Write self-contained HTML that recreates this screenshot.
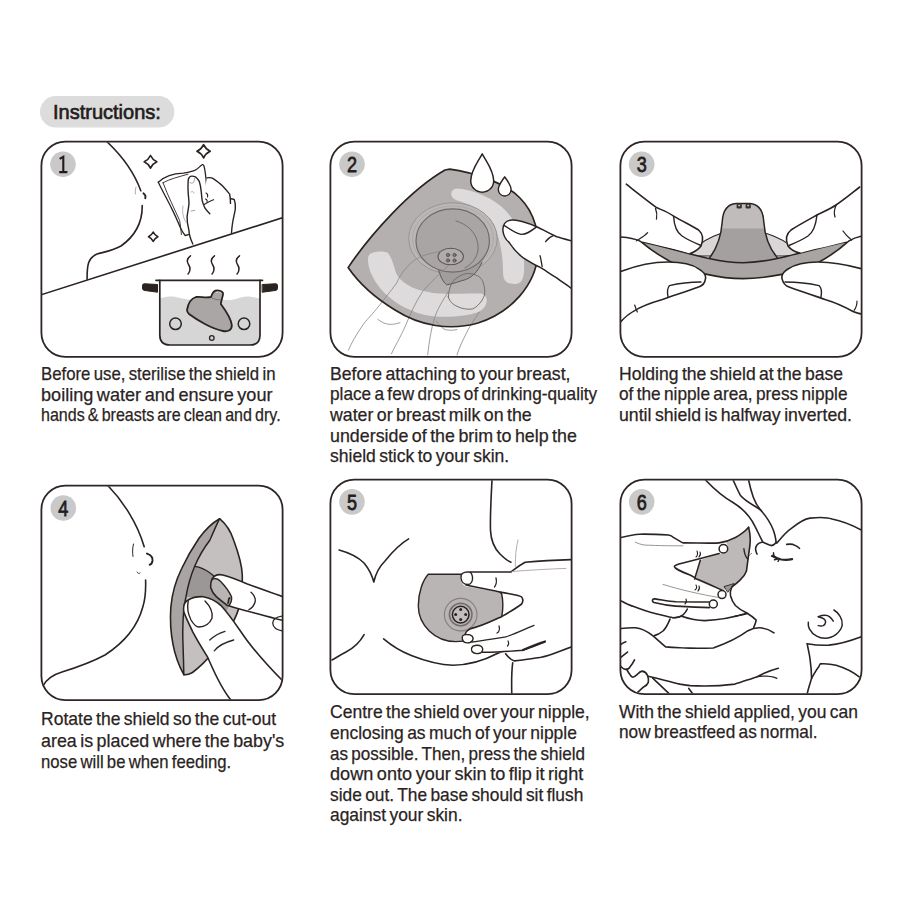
<!DOCTYPE html>
<html><head><meta charset="utf-8"><style>
html,body{margin:0;padding:0;background:#fff;width:900px;height:900px;overflow:hidden;position:relative}
.ill{position:absolute;left:0;top:0}
.t{position:absolute;white-space:pre;font-family:"Liberation Sans",sans-serif;line-height:1;color:#2a2322;transform-origin:0 0;-webkit-text-stroke:0.25px #2a2322}
.n{position:absolute;width:20px;text-align:center;font-family:"Liberation Sans",sans-serif;font-size:20px;line-height:1;color:#231c1b}
</style></head><body>
<svg class="ill" width="900" height="900" viewBox="0 0 900 900">
<rect x="40" y="96.1" width="134.4" height="31.5" rx="15.75" fill="#dcdcdc"/>
<defs><clipPath id="pc1"><rect x="42" y="142.3" width="240" height="213.89999999999998" rx="23"/></clipPath><clipPath id="pc2"><rect x="331" y="142.3" width="240" height="213.89999999999998" rx="23"/></clipPath><clipPath id="pc3"><rect x="621" y="142.3" width="240" height="213.89999999999998" rx="23"/></clipPath><clipPath id="pc4"><rect x="42" y="486.3" width="240" height="213.2" rx="23"/></clipPath><clipPath id="pc5"><rect x="331" y="480.3" width="240" height="213.2" rx="23"/></clipPath><clipPath id="pc6"><rect x="621" y="480.3" width="240" height="213.2" rx="23"/></clipPath></defs>
<g clip-path="url(#pc1)"><g id="p1" fill="none" stroke="#2b2321" stroke-width="1.6" stroke-linecap="round" stroke-linejoin="round">
<path d="M106.7,141.5 C120,154 134,172 140.8,190.8"/>
<path d="M143.4,193.2 Q146.5,195.5 145.2,198.3" stroke-width="1.8"/>
<path d="M136,187 Q134.8,191 135.3,194" stroke="#9a9494" stroke-width="0.8"/>
<path d="M142.2,205.6 C142.5,222 135,236 121,246 C112,251 104,252 97,254 C88,258 87,265 87.1,279.2"/>
<path d="M41,294.8 L283,217.6"/>
<!-- sparkles -->
<path d="M150.5,155.5 Q152.52,159.78 156.8,161.8 Q152.52,163.82 150.5,168.10000000000002 Q148.48,163.82 144.2,161.8 Q148.48,159.78 150.5,155.5Z" stroke-width="1.7"/>
<path d="M203.6,144.70000000000002 Q205.71,149.19 210.2,151.3 Q205.71,153.41 203.6,157.9 Q201.49,153.41 197.0,151.3 Q201.49,149.19 203.6,144.70000000000002Z" stroke-width="1.7"/>
<path d="M153.2,232.0 Q154.70,235.20 157.89999999999998,236.7 Q154.70,238.20 153.2,241.39999999999998 Q151.70,238.20 148.5,236.7 Q151.70,235.20 153.2,232.0Z" stroke-width="1.6"/>
<!-- cloth -->
<path d="M158.3,182.2 C162,179 165,177 169.2,175.6 C174,174 178,173.5 183.3,173.2 C188,172.5 191,171.5 194.7,170.4 C198,169 200,166 202.2,164.7 C203,164.3 203.8,165 204.1,166.6 C205,170 205.5,174 206,178.9 L206.9,191.2 L189,236 L185.2,235.5 C183,232 181.5,230 180.5,228 C178,222 175,215 172,209.1 C167,200 162,190 158.3,182.2Z" fill="#fff" stroke="none"/>
<path d="M158.3,182.2 C162,179 165,177 169.2,175.6 C174,174 178,173.5 183.3,173.2 C188,172.5 191,171.5 194.7,170.4 C198,169 200,166 202.2,164.7 C203,164.3 203.8,165 204.1,166.6 C205,170 205.5,174 206,178.9 C206.4,183 206.6,187 206.9,191.2" stroke-width="1.3"/>
<path d="M158.3,182.2 C163,192 168,201 172,209.1 C175,215 178,222 180.5,228 C182,231 183.5,233.5 185.2,235.5 L188.5,234.6" stroke-width="1.3"/>
<path d="M163,182.7 C170,179 178,177 188,174.2" stroke-width="0.9"/>
<path d="M163,182.7 C168,196 174,208 179.6,220.4 C180.5,225 181,230 181.4,234.6" stroke-width="0.9"/>
<path d="M183,206 C182,212 183,218 186,222" stroke="#9a9494" stroke-width="0.7"/>
<!-- hand -->
<path d="M192.8,244 C190,238 189,234 189,230.8 C187.5,225 187,220 187.1,216.7 C188,210 189,206 189,202.5 C188.5,196 188,192 188,188.3 C188,183 188,180 188.5,178.9 C189.5,176.5 190.5,176 191.8,176.1 C193.5,176 194.5,176.5 195.6,177 C197.5,178.5 198.5,180 199.4,181.7 C200.5,185 201,189 201.3,192.1 C201.6,195 201.8,198 202.2,200.6 C203,204 204,206 205,208.2 C206.5,210.5 208,212 209.8,213.8 L214,205 C220,201 224,198 228,196 L207,178 Z" fill="#fff" stroke="none"/>
<path d="M192.8,244 C190,238 189,234 189,230.8 C187.5,225 187,220 187.1,216.7 C188,210 189,206 189,202.5 C188.5,196 188,192 188,188.3 C188,183 188,180 188.5,178.9 C189.5,176.5 190.5,176 191.8,176.1 C193.5,176 194.5,176.5 195.6,177 C197.5,178.5 198.5,180 199.4,181.7 C200.5,185 201,189 201.3,192.1 C201.6,195 201.8,198 202.2,200.6 C203,204 204,206 205,208.2 C206.5,210.5 208,212 209.8,213.8" stroke-width="1.4"/>
<path d="M190,182.7 C191,183.3 192,183.3 192.8,183.1 C194,182 194.5,180 194.7,178.4" stroke="#8f8989" stroke-width="0.8"/>
<path d="M207,177.9 C209,177.5 210.5,177.6 211.7,177.9 C215,179.5 218,182 221.1,184.6 C224,187.5 227,191 229.6,194 C230.3,197 230.5,200 230.5,203.4" stroke-width="1.4"/>
<path d="M230.5,198.7 C232,198.8 233.5,199.2 234.3,199.7 C235.5,203 235.6,206 235.3,209.1 C234.5,214 233,219 232.4,224.2 C232,227 231.7,230 231.5,232.7" stroke-width="1.4"/>
<path d="M204.1,204.4 C207,202.5 210,201 213.5,199.7" stroke-width="1.2"/>
<path d="M206,193 C207.5,193.5 208,195 207.5,197 M205.5,199 C207,199.5 207.5,201 207,202" stroke-width="1.1"/>
<path d="M190.9,211 C192,210.7 193.5,210.6 194.7,210.5" stroke="#8f8989" stroke-width="0.8"/>
<path d="M191,192 C192.5,191 193.5,191.5 194,193" stroke="#9a9494" stroke-width="0.7"/>
<!-- pot -->
<path d="M160,298.5 C166,296.5 171,296 176,297 C183,298.5 188,300.5 195,299.5 C201,298.5 204,296.5 210,297 C218,298 222,300.5 230,300 C237,299.5 241,296.5 247,296.5 C252,296.5 256,298 260,298.5 L260,335 Q260,345 250,345 L170,345 Q160,345 160,335Z" fill="#d6d6d6" stroke="none"/>
<path d="M159.8,280.3 L159.8,335 Q159.8,345 170,345 L250,345 Q260,345 260,335 L260,280.3" stroke-width="1.7"/>
<path d="M156,280.3 L262.5,280.3" stroke-width="1.7"/>
<path d="M142.5,285.5 C142.5,284 143.5,283.8 145,283.8 L157.5,284.5 L157.5,292.2 L145,290.5 C143.5,290.3 142.5,289.8 142.5,288.5Z" fill="#2b2321" stroke="#2b2321" stroke-width="1"/>
<path d="M262.5,284.5 L275,283.8 C276.5,283.8 277.5,284 277.5,285.5 L277.5,288.5 C277.5,289.8 276.5,290.3 275,290.5 L262.5,292.2Z" fill="#2b2321" stroke="#2b2321" stroke-width="1"/>
<circle cx="175.5" cy="323.8" r="5.8" stroke-width="1.5"/>
<circle cx="244" cy="323.8" r="5.8" stroke-width="1.5"/>
<circle cx="211.8" cy="338" r="2.3" stroke-width="1.3"/>
<path d="M187,310 C188,304 191,298.5 196,297 C201,296.5 205,298 211,297 C212,294 213,291.5 215.5,290.6 C218.5,290 222,291 223,293 C223.5,295.5 221.5,298.5 220.8,304 C226,311 231,318 231.8,325 C232,330 228,332 223,331 C212,329 197,320 189,314 C187.5,312.5 187,311 187,310Z" fill="#aaa6a5" stroke-width="1.8"/>
<path d="M216.5,292.5 L218,292.2 M219.8,292.6 L221,293" stroke="#ddd" stroke-width="0.9"/>
<path d="M212,298 C214,299 217,300 220.5,300" stroke="#6b6565" stroke-width="0.8"/>
<!-- steam -->
<path d="M190.5,255.8 C187,258.5 186.5,261.5 188.5,264.5 C190.5,267.5 191,270.5 188,274" stroke-width="1.5"/>
<path d="M214.5,255.8 C211,258.5 210.5,261.5 212.5,264.5 C214.5,267.5 215,270.5 212,274" stroke-width="1.5"/>
<path d="M239.5,255.8 C236,258.5 235.5,261.5 237.5,264.5 C239.5,267.5 240,270.5 237,274" stroke-width="1.5"/>
</g>
</g>
<g clip-path="url(#pc2)"><g id="p2" fill="none" stroke="#2b2321" stroke-width="1.6" stroke-linecap="round" stroke-linejoin="round">
<defs>
<clipPath id="c2"><path d="M449.8,169.2 C470,172 505,182 520,198 C535,213 540,235 538,255 C535,285 512,312 478,323 C450,331 420,326 395,310 C375,298 358,282 348.1,267.6 C370,235 410,190 445,170 Z"/></clipPath>
</defs>
<path d="M449.8,169.2 C470,172 505,182 520,198 C535,213 540,235 538,255 C535,285 512,312 478,323 C450,331 420,326 395,310 C375,298 358,282 348.1,267.6 C370,235 410,190 445,170 Z" fill="#b4b0af" stroke="none"/>
<g clip-path="url(#c2)" stroke="none">
<path d="M462,189 C485,193 505,205 514,222 C522,238 525,258 524,272 C523,282 520,284 514,284 C506,284 503,280 503,272 C503,255 500,240 495,228 C488,214 475,206 459,201 C452,199 450,195 452,191 C454,188 458,188 462,189Z" fill="#dddbdb"/>
<path d="M372,253 C377,251 385,251 388,253 C392,258 394,266 396,273 C402,285 418,292 440,293.5 C455,294 470,293.5 481,293.5 C486,295 488,299 486,304 C484,310 478,313 470,314.5 C455,317 440,318 425,315 C405,310 390,300 380,288 C372,278 368,268 368,260 C368,256 369,254 372,253Z" fill="#dddbdb"/>
</g>
<ellipse cx="453" cy="238.5" rx="44.3" ry="35.7" fill="#bbb7b6" stroke="#959190" stroke-width="0.9"/>
<ellipse cx="453" cy="238.5" rx="40.5" ry="32.5" fill="none" stroke="#a9a5a4" stroke-width="0.7"/>
<path d="M438,268 C440,276 443,282 446.6,284.8 C453,284 460,281 465.6,279.6 C472,277 478,272 482,262" fill="#a19d9c" stroke="#5e5757" stroke-width="1"/>
<ellipse cx="452.7" cy="240.5" rx="36.7" ry="31.7" fill="#a9a5a4" stroke="#6f6a69" stroke-width="1.2"/>
<path d="M456,221 C470,225 479,236 478,250 C477,258 472,264 465,268" stroke="#6e6868" stroke-width="0.9"/>
<ellipse cx="450.7" cy="256.5" rx="12.7" ry="8.3" fill="#b0acab" stroke="#5a5353" stroke-width="1.1"/>
<g fill="#7a7474" stroke="#4a4343" stroke-width="0.6"><circle cx="448" cy="255" r="1.7"/><circle cx="454.5" cy="255" r="1.7"/><circle cx="448" cy="260.5" r="1.7"/><circle cx="454.5" cy="260.5" r="1.7"/></g>
<!-- faint hand -->
<g stroke="#8a8585" stroke-width="0.8">
<path d="M448.3,296.8 C449,288 452,280 457,277.9 C462,274 468,273 469,273.6 C476,274 481,277 482.8,281.3 C485,287 485,292 484.5,295.1 C482,302 477,307 472.5,308.9 C466,310 460,308 455.2,305.4 C451,303 449,300 448.3,296.8Z" stroke="#6e6868" stroke-width="0.9"/>
<path d="M441.5,251.2 C430,253 420,256 413.9,260.7 C405,268 400,275 396.7,283 C390,292 385,298 379.4,305.4 C372,315 366,320 362.2,326.1 C356,335 352,342 348.4,350.2"/>
<path d="M448.3,265.8 C438,275 430,283 422.5,291.7 C415,303 410,315 405.3,326.1 C400,338 395,346 391.5,353.7"/>
<path d="M448.3,291.7 C443,300 438,308 434.6,317.5 C431,330 429,342 427.7,355"/>
<path d="M479.3,312.3 C474,320 469,327 465.6,334.7 C462,342 459,348 457,355"/>
<path d="M377.7,319.2 C381,322 385,324 389.8,324.4 C394,324.5 397,323.5 400,322.7"/>
<path d="M436.3,321 C439,325 442,328 444.9,329.6 C449,330.5 453,330.5 457,329.6"/>
</g>
<path d="M449.8,169.2 C470,172 505,182 520,198 C535,213 540,235 538,255 C535,285 512,312 478,323 C450,331 420,326 395,310 C375,298 358,282 348.1,267.6 C370,235 410,190 445,170 Z" stroke-width="1.7"/>
<!-- drops -->
<path d="M482.2,153.8 C478,162 471,170 470.7,180.7 A11.5,11.5 0 0 0 493.7,180.7 C493.4,170 486.5,162 482.2,153.8Z" fill="#fff" stroke-width="1.5"/>
<path d="M504.7,176.8 C502,181 498.3,185 498.3,189.6 A6.4,6.4 0 0 0 511.1,189.6 C511.1,185 507.4,181 504.7,176.8Z" fill="#fff" stroke-width="1.4"/>
<!-- finger -->
<path d="M572,241.1 C565,239 560,237.5 556.7,236.7 C548,233 542,229 536.7,226.7 C528,223 518,219.5 512.2,220 C506,220.5 503,223 502.8,230 C504,236 506,240 508.9,242.2 C514,250 518,254 523.3,257.8 C530,262 535,265 538.9,266.7 C545,270 550,274 556.7,277.8 C562,282 567,285 572,288.9 Z" fill="#fff" stroke="none"/>
<path d="M572,241.1 C565,239 560,237.5 556.7,236.7 C548,233 542,229 536.7,226.7 C528,223 518,219.5 512.2,220 C506,220.5 503,223 502.8,230 C503.5,236 506,240 508.9,242.2 C514,250 518,254 523.3,257.8 C530,262 535,265 538.9,266.7 C545,270 550,274 556.7,277.8 C562,282 567,285 572,288.9" stroke-width="1.5"/>
<path d="M504.4,225.6 C510,229 515,233 521.1,234.4 C527,234.5 531,231 536.7,226.7" stroke-width="1.4"/>
<path d="M545.6,241.7 C548,238.5 550.5,236.5 553.3,235.6" stroke-width="1.3"/>
<path d="M540,255.6 C541,259 541.5,263 542.2,266.7" stroke-width="1.3"/>
</g>
</g>
<g clip-path="url(#pc3)"><g id="p3" fill="none" stroke="#2b2321" stroke-width="1.6" stroke-linecap="round" stroke-linejoin="round">
<!-- back brim -->
<path d="M690,256 C700,238 725,230 743,230 C762,230 788,238 800,256 Z" fill="#d8d6d6" stroke="#2b2321" stroke-width="1.1"/>
<!-- nipple -->
<path d="M704,266 L708.3,259.5 C716,250 721,238 722.2,222 C722.8,211 727,204 736,203.4 L750,203.4 C759,204 763.2,211 763.8,222 C765,238 770,250 779,259.5 L783,266 Z" fill="#a3a09f" stroke="none"/>
<path d="M721.5,228.6 C722.5,223 722.5,218 723,214 C725,207 729,203.6 736,203.4 L750,203.4 C757,203.6 761,207 763,214 C763.5,218 763.8,223 764.5,228.6 Z" fill="#c0bcbb" stroke="none"/>
<path d="M708.3,259.5 C716,250 721,238 722.2,222 C722.8,211 727,204 736,203.4 L750,203.4 C759,204 763.2,211 763.8,222 C765,238 770,250 779,259.5" stroke-width="1.5"/>
<rect x="736.6" y="203.6" width="5.2" height="5" rx="1.3" fill="#3a3331" stroke="none"/><rect x="745.6" y="203.6" width="5.2" height="5" rx="1.3" fill="#3a3331" stroke="none"/><rect x="738.3" y="204.8" width="1.8" height="1.4" fill="#cfcbca" stroke="none"/><rect x="747.3" y="204.8" width="1.8" height="1.4" fill="#cfcbca" stroke="none"/>
<!-- front brim -->
<path d="M640.2,241.1 C680,250 710,262 743,262.8 C776,262 806,250 848.6,241.1 C830,258 805,272 781.9,274.4 C768,277 755,278.6 743,278.6 C731,278.6 718,277 706.9,274.4 C682,270 658,256 640.2,241.1Z" fill="#a9a5a4" stroke-width="1.6"/>
<!-- left upper finger -->
<path d="M620,237 C627,238 634,239 640.2,241.1 C660,246 680,250 690.2,253.6 C697,250 702,245 702.7,239.7 C703,234 700,231 690,228 C682,224 675,219 673.6,216.1 C665,211 660,209 656.9,207.8 C645,199 635,191 626.3,184.2 L620,180 Z" fill="#fff" stroke="none"/>
<path d="M626.3,184.2 C635,191 645,199 656.9,207.8 C662,210 668,212 673.6,216.1 C682,221 692,226 698.6,230 C703,234 703.5,240 701,246 C698,250 694,252 690.2,253.6"/>
<path d="M673.6,216.1 C674,224 676,232 682,236 C688,240 695,243 701,245.5" stroke-width="1.4"/>
<path d="M655.5,208.5 C657,212 657,216 656.5,219" stroke-width="1.3"/>
<path d="M620,237 C627,237.5 634,238.5 640.2,241.1" stroke-width="1.4"/>
<path d="M636.5,240.8 C641,238 645,236 647.6,232.7" stroke-width="1.3"/>
<!-- right upper finger -->
<path d="M862,236 C855,238 851,239 848.6,241.1 C830,246 810,250 800,253 C792,250 786,245 786,239.7 C786,234 790,231 800,227 C808,223 815,218 817,215 C826,210 832,207 836,205 C845,199 852,193 860,187 L862,186 Z" fill="#fff" stroke="none"/>
<path d="M859.7,187 C852,193 845,199 836,205 C830,209 823,212 817,215 C808,220 797,226 791,230 C786,234 785.5,240 788,246 C791,250 795,252 800,253"/>
<path d="M817,215 C816,224 814,232 808,236 C802,240 795,243 789,245.5" stroke-width="1.4"/>
<path d="M836,205.5 C834,210 834,214 835,217" stroke-width="1.3"/>
<path d="M862,236 C856,237 852,239 848.6,241.1" stroke-width="1.4"/>
<path d="M851.5,240 C848,237 845,234 843,231" stroke-width="1.3"/>
<!-- left lower thumb -->
<path d="M620,271.7 C635,266 652,262 668,262 C682,262 692,264 698.6,268.9 C704,272 706,276 705.5,278.6 C705,283 702,286 698.6,287 C688,291 675,295 662.4,299.4 C650,303 640,307 634.7,310.6 C628,314 624,318 620,321.7 Z" fill="#fff" stroke="none"/>
<path d="M620,271.7 C635,266 652,262 668,262 C682,262 692,264 698.6,268.9 C704,272 706,276 705.5,278.6 C705,283 702,286 698.6,287 C688,291 675,295 662.4,299.4 C650,303 640,307 634.7,310.6 C628,314 624,318 620.8,321.7"/>
<path d="M668,296.7 C667,292 667.5,288 669.4,285.6 C680,283 690,282 701,282" stroke-width="1.4"/>
<path d="M634.7,305 C635.5,308 636.5,310 637.4,312" stroke-width="1.2"/>
<!-- right lower thumb -->
<path d="M862,268.9 C848,265 832,262 818,262 C804,262 794,265 788,269 C783,272 781.5,276 782,278.6 C783,283 786,286 789,287 C800,291 812,295 825,299.4 C837,303 847,308 853,311.5 C857,313 860,314 862,314 Z" fill="#fff" stroke="none"/>
<path d="M862,268.9 C848,265 832,262 818,262 C804,262 794,265 788,269 C783,272 781.5,276 782,278.6 C783,283 786,286 789,287 C800,291 812,295 825,299.4 C837,303 847,308 853,311.5 C857,313 860,314 862,314"/>
<path d="M821,297 C822,292 821.5,288 819,285.6 C808,283 797,282 785,282" stroke-width="1.4"/>
<path d="M857,301 C857,305 856,308 854,310.5" stroke-width="1.2"/>
</g>
</g>
<g clip-path="url(#pc4)"><g id="p4" fill="none" stroke="#2b2321" stroke-width="1.6" stroke-linecap="round" stroke-linejoin="round">
<path d="M108,485.8 C122,500 137,522 144.2,546.7"/>
<path d="M145.6,580 C146,592 145,600 142.8,607 C138,625 125,642 105,655 C90,663 75,668 62,672 C52,675 46,680 43,686"/>
<path d="M147,553.6 C151,555 153,558 152.5,561 C152,563 151,564.5 149.7,564.7" stroke-width="2"/>
<path d="M133.5,544 C132.5,548 132.3,552 133,556.4" stroke-width="1"/>
<path d="M137,572 C138,573.5 139,574 140,573" stroke-width="0.9"/>
<!-- shield -->
<path d="M219.6,518.7 C226,524 231,532 233.7,540.3 C238,552 242,565 242.3,575 C242.5,585 242,595 240.2,603.2 C238,612 235,619 231.5,624.8 C226,634 220,643 214.2,650.8 C207,660 200,667 192.5,672.5 C189,674.5 186,675 183.8,674.7 C178,664 175,655 173,644.3 C170.5,632 170,620 170.8,607.5 C172,593 176,580 181.7,568.5 C187,557 193,547 199,538.2 C205,530 212,523 219.6,518.7Z" fill="#c4c0bf" stroke="none"/>
<path d="M219.6,518.7 C205,530 199,538 199,538.2 C193,547 187,557 181.7,568.5 C176,580 172,593 170.8,607.5 C170,620 170.5,632 173,644.3 C175,655 178,664 183.8,674.7 C183.5,650 182.5,640 182.8,629.2 C183,615 184,605 186,596.7 C188,585 191,575 194.7,566.3 C199,556 204,548 209.8,540.3 C213,533 216,526 219.6,518.7Z" fill="#a9a5a4" stroke="none"/>
<path d="M194.7,566.3 C200,567 205,569 209.8,572.8 C213,575 215,577 216.3,579.3 L229,606 L226,612 L203,598 L186,596.7 C188,585 191,575 194.7,566.3Z" fill="#9b9796" stroke="none"/>
<path d="M219.6,518.7 C226,524 231,532 233.7,540.3 C238,552 242,565 242.3,575 C242.5,585 242,595 240.2,603.2 C238,612 235,619 231.5,624.8 C226,634 220,643 214.2,650.8 C207,660 200,667 192.5,672.5 C189,674.5 186,675 183.8,674.7 C178,664 175,655 173,644.3 C170.5,632 170,620 170.8,607.5 C172,593 176,580 181.7,568.5 C187,557 193,547 199,538.2 C205,530 212,523 219.6,518.7Z" stroke-width="1.6"/>
<path d="M219.6,518.7 C216,526 213,533 209.8,540.3 C204,548 199,556 194.7,566.3 C191,575 188,585 186,596.7 C184,605 183,615 182.8,629.2 C182.5,640 183.5,650 183.8,674.7" stroke-width="1.5"/>
<path d="M194.7,566.3 C200,567 205,569 209.8,572.8 C213,575 215,577 216.3,579.3" stroke-width="1.3"/>
<!-- index finger -->
<path d="M283,596.7 C270,592 258,588 246.7,583.7 C238,580 230,577 222.8,575 C218,574 214,575.5 212,579.3 C210.5,583 210.5,586 210.9,588 C212,592 214,594.5 216.3,596.7 C220,600 224,603 227.2,605.3 C232,607 237,608.5 242.3,609.7 C255,613 268,617 283,620.5 Z" fill="#fff" stroke="none"/>
<path d="M212,579.3 C214,577 218,576.5 220.7,581.5 C225,586 229,591 231.5,596.7 C232,600 231,603 229.3,605.3 C226,606 222,603 216.3,596.7 C214,594.5 212,592 210.9,588 C210.5,585 211,582 212,579.3Z" fill="#b9b5b4" stroke="none"/>
<path d="M283,596.7 C270,592 258,588 246.7,583.7 C238,580 230,577 222.8,575 C218,574 214,575.5 212,579.3 C210.5,583 210.5,586 210.9,588 C212,592 214,594.5 216.3,596.7 C220,600 224,603 227.2,605.3 C232,607 237,608.5 242.3,609.7 C255,613 268,617 283,620.5"/>
<path d="M212,579.3 C215,578 218,578.5 220.7,581.5 C225,586 229,591 231.5,596.7 C232,600 231,603 229.3,605.3" stroke-width="1.4"/>
<path d="M229.5,598 C228,599.5 229,601.5 228,603" stroke-width="1.8"/>
<path d="M251,592.3 C254,595 255.5,598 255.3,601 C254.5,605 252,608 248.8,609.7" stroke-width="1.3"/>
<path d="M283,616 C277,616.5 273,619 272.7,623 C273,627 276,630 283,631" stroke-width="1.3"/>
<!-- thumb -->
<path d="M231.5,705 C222,690 214,672 207.7,657.3 C202,648 197,640 192.5,631.3 C189,624 186,618 183.8,611.8 C183,606 184,602 188.2,600 C193,597 198,596.5 203.3,596.7 C210,598 216,601 220.7,605.3 C230,615 238,628 246.7,640 C258,655 270,668 283,681.2 L283,705 Z" fill="#fff" stroke="none"/>
<path d="M231.5,700.7 C222,690 214,672 207.7,657.3 C202,648 197,640 192.5,631.3 C189,624 186,618 183.8,611.8 C183,606 184,602 188.2,600 C193,597 198,596.5 203.3,596.7 C210,598 216,601 220.7,605.3 C230,615 238,628 246.7,640 C258,655 270,668 283,681.2"/>
<path d="M188.2,601 C187,607 188,614 191,620 C194,625 197,627 199,627 C204,627 209,625 212,618.3 C213,612 210,606 205,601" stroke-width="1.4"/>
<path d="M209.8,640 C214,636 219,633 225,631.3" stroke-width="1.3"/>
<path d="M214.2,650.8 C219,645 226,642 233.7,640" stroke-width="1.3"/>
</g>
</g>
<g clip-path="url(#pc5)"><g id="p5" fill="none" stroke="#2b2321" stroke-width="1.6" stroke-linecap="round" stroke-linejoin="round">
<path d="M492,480 C491,500 490,515 490.5,530.6 C491,540 494,548 500,554 C504,558 508,561 510.9,562.2"/>
<path d="M518,540 C516,548 515.3,556 515.3,566.7" stroke="#a09a9a" stroke-width="0.8"/>
<path d="M339.1,550 C350,553 358,557 364,563 C369,569 372,575 373.8,582 C376,572 380,566 385,561 C393,551 400,544 408.6,538.9"/>
<path d="M364.1,634.7 C360,642 354,648 346,652 C340,655 336,658 332,660"/>
<path d="M383.6,638.9 C392,646 400,651 411.3,655.6 C425,661 440,665 453,665.3 C470,665 485,660 496.7,653.8 C500,652 503,651 505.6,652"/>
<path d="M512.7,662.7 C511.5,672 511.5,684 511.8,694.5"/>
<!-- shield -->
<path d="M428.3,574.3 C423,580 418.3,592 418.3,605.8 C418.3,625 435,641.6 455.8,641.6 C480,641.6 495,630 501.7,616.9 C503,610 503,600 501.7,594 C495,585 480,574.3 461.3,574.3 Z" fill="#b9b5b4" stroke-width="1.4"/>
<circle cx="460.7" cy="614.6" r="16.3" stroke="#878281" stroke-width="1.2"/>
<circle cx="460.7" cy="614.6" r="11.3" fill="#b5b1b0" stroke="#736e6d" stroke-width="1.5"/>
<circle cx="460.7" cy="614.6" r="8.3" fill="#c2bebd" stroke="#2b2321" stroke-width="1.5"/>
<g fill="#2b2321" stroke="none"><circle cx="460.7" cy="609.6" r="1.5"/><circle cx="455.7" cy="614.6" r="1.5"/><circle cx="465.7" cy="614.6" r="1.5"/><circle cx="460.7" cy="619.6" r="1.5"/></g>
<!-- hand fill -->
<path d="M572,559.6 C555,560 538,561 525.1,562.2 C518,566 514,570 510.9,572 L468.7,572 C462,572 460,576 461,580 C462,584 464,587 470,587.1 C480,589 492,591 502,592.4 C510,594 518,595 521.6,596.9 C523,599 523,602 521.6,604 C515,609 508,613 502,616.4 C492,621 482,626 470,628.9 C463,632 462,636 463,640 C465,643 470,643 473.6,642.2 C471,646 472,652 478,652.5 L483.3,652 C495,652 505,652 505.6,653.8 C508,657 511,660 514.4,660.9 C525,660 535,658 541.1,657.3 C552,655 562,650 572,646.7 Z" fill="#fff" stroke="none"/>
<!-- hand lines -->
<path d="M572,559.6 C555,560 538,561 525.1,562.2 C518,566 514,570 510.9,572 L470,572"/>
<path d="M512,571.5 C530,570 550,569 566,568.4" stroke="#a9a3a3" stroke-width="0.9"/>
<path d="M469,572 C463,571.5 460.5,574 461,578 C461.5,582 463,584.5 468,584.5 C471,584.5 473,581 472.5,577 C472,574 471,572 469,572Z" fill="#fff" stroke-width="1.4"/>
<path d="M466,585 C480,588 492,590 502,592.4 C510,594 518,595 521.6,596.9 C523,599 523,602 521.6,604 C515,609 508,613 502,616.4 C492,621 482,626 470,628.9 C468,630 466,632 465,634"/>
<path d="M467,634.5 C463,634 461.5,636.5 462.5,639.5 C463.5,642.5 466,643.5 470,642.5 C473,641.5 474,638.5 472,636 C471,635 469,634.5 467,634.5Z" fill="#fff" stroke-width="1.4"/>
<path d="M472,642.2 C485,640 495,638.5 505.6,636.9 C515,634 525,629 534,625.3" stroke-width="1.3"/>
<path d="M475,645.5 C472,646 470.5,648.5 472,651.5 C473.5,653.5 477,654 480.5,653 C483,651.5 483.5,648.5 481.5,646.5 C480,645.5 477,645 475,645.5Z" fill="#fff" stroke-width="1.4"/>
<path d="M482,652.3 C495,652 510,651.5 523.3,650.2 C530,648 538,645 544.7,642.2" stroke-width="1.4"/>
<path d="M523,650 C532,646 540,643 545,641.5" stroke-width="2.2"/>
<path d="M505.6,653.8 C508,657 511,660 514.4,660.9 C525,660 535,658 541.1,657.3 C552,655 562,650 572,646.7"/>
<path d="M496,578 C497,582 496,585 494.5,587" stroke-width="1.3"/>
<path d="M499,626 C500,629 499,632 497,633" stroke-width="1.3"/>
<path d="M508,641 C509,643 508.5,645 507.5,646" stroke-width="1.2"/>
</g>
</g>
<g clip-path="url(#pc6)"><g id="p6" fill="none" stroke="#2b2321" stroke-width="1.6" stroke-linecap="round" stroke-linejoin="round">
<!-- breast lines -->
<path d="M705.5,480 C715,490 725,498 733,502.5 C742,508 750,516 755,526.3 C758,532 760,537 762.3,541"/>
<path d="M733,480 C736,486 738,491 740.3,495.2 C746,502 754,505 760.5,509.9 C766,516 771,524 773.3,530 C775,535 776,539 776.1,542.9"/>
<path d="M748.6,480 C750,487 751.5,492 753.2,497 C755,502 758,507 760.5,509.9"/>
<!-- baby head -->
<path d="M777,542.9 C782,537 786,532 791.7,528.2 C798,523 804,519 810,518.1 C820,517 828,517.5 832,519 C842,521 852,525 861.4,530"/>
<path d="M762.6,542 C760,542.5 758,543.5 757.1,544.8 C755.8,546.5 755.5,548 755.6,549.4 C755.8,551 756.3,552.8 757.1,554.1"/>
<path d="M751.7,553.3 C750,554.5 748.8,555.8 747.8,557.2" stroke="#8d8787" stroke-width="1"/>
<path d="M762.6,542 C766,543.5 769,545 771.1,545.6 C773,545.6 775,544 776.5,542.4"/>
<path d="M786.7,544.4 C789,544 791,544 792.9,544.4 C795.5,545.2 797.8,546.5 799.5,548.3" stroke-width="1.6"/>
<path d="M772.7,555.7 C775,557.5 778,559 781.2,559.5 C785,560 789,559.8 792.1,559.2" stroke-width="2.2"/>
<path d="M774,556.5 L773.5,552.8 M775.5,557.8 L771.5,556 M777.5,559 L774.5,559.8 M779,559.6 L778,561.5" stroke-width="1.4"/>
<!-- chin / cheek -->
<path d="M731.7,587.2 C730.5,590 730,593 730.5,595.7 C731.5,599.5 733,602.5 735.4,605.5 C738.5,608.5 742,610.7 746.4,612.8 C750,615 753.5,617.5 756.2,620.1 C755.8,622.5 754.8,625 753.7,627.4"/>
<path d="M681.6,616.2 C690,619 697,620.5 704.7,620.6 C720,620 735,617 746.6,613.3"/>
<!-- shield -->
<path d="M748.6,527.3 C742,535 733,540.5 726,542.5 C728,545 728.5,550 726,552 C723,553.5 721,553.5 719.1,553.5 C712,556 706,558 700.3,560.2 L694.6,579 C703,583 712,587 722,590.2 L731.7,587.2 C734.5,585 737.5,582.5 740.3,579.8 C743,577.5 745,575 746.4,571.3 C747,567 747.5,563 748.2,557.9 C748.8,553 749.5,549 750,544.4 C750.5,540 750.5,535 748.6,527.3Z" fill="#bdb9b8" stroke="none"/>
<path d="M724.4,586.5 L734.2,583.5 C732,586.5 730,589.5 728,592 Z" fill="#9a9695" stroke="#2b2321" stroke-width="0.9"/>
<path d="M748.6,527.3 C750.5,535 750.5,540 750,544.4 C749.5,549 748.8,553 748.2,557.9 C747.5,563 747,567 746.4,571.3 C745,575 743,577.5 740.3,579.8 C737.5,582.5 734.5,585 731.7,587.2" stroke-width="1.6"/>
<path d="M743.9,548.7 C744.3,553 745.8,557 747.8,559" stroke-width="1.4"/>

<!-- hand -->
<path d="M620,537.8 C627,536 633,534.5 639.7,534.2 C650,534 660,534.5 668.6,535 C671,535.5 672,536 672.9,537.1 C676,539 680,541.5 683,542.9 C700,543 715,543.5 719.1,542.9 C730,541.5 742,535 748.6,527.3"/>
<path d="M635.3,542.2 C638,543.5 641,544.5 644,545 C660,545.8 672,545.8 683,545.8" stroke="#8f8989" stroke-width="0.9"/>
<circle cx="723.4" cy="548.7" r="4.3" fill="#fff" stroke-width="1.5"/>
<path d="M719.1,553.5 C710,556 695,560 683,563 C677,564.5 674,565.5 674.3,566.5 C675,569 680,571 690,575 C694,577 696,578 696,578.7 C705,582 715,587 722,590.2"/>
<path d="M700.3,560.2 L694.6,579" stroke-width="1.5"/>
<path d="M697,551 C698,553 697.5,556 696,557 M700,552 C701,554 700,556 699,557" stroke-width="1.1"/>
<circle cx="722" cy="594.6" r="4" fill="#fff" stroke-width="1.5"/>
<circle cx="713.3" cy="604" r="4" fill="#fff" stroke-width="1.5"/>
<path d="M662.8,584.4 C672,587 682,590 690.2,591.7 C700,594 710,596 718,597.4" stroke="#8f8989" stroke-width="0.9"/>
<path d="M696,585 C697,587 696.5,589 695,590 M699,586 C700,588 699,590 698,591" stroke-width="1.1"/>
<path d="M686,599 C687,601 686,603 685,604" stroke-width="1.1"/>
<path d="M709.3,602 C698,602 688,601.8 675.8,601.8 C668,601 660,599.5 655,598.9 C652,598.5 651.5,601.5 654,602.5 C660,604 668,605.5 675.8,606.1 C690,607 700,607.5 709.5,607.6"/>
<path d="M620,600.3 C625,603 628,605 632.4,606.1 C640,609 648,612 654.1,613.3 C662,615 668,617 672.9,617.7 C678,617.5 681,616.5 683,614.8 C685,613 686.5,611 687.3,609"/>
<path d="M672.9,617.7 C677,618 680,617 681.6,616.2" stroke-width="1.3"/>
<!-- baby arm -->
<path d="M670,619.1 C668,624 666,628 663,631 C660,633.5 657,635 654.4,635.6"/>
<path d="M620,628.7 C625,628 630,627.6 635.3,627.8 C642,628.5 648,632 652.7,635.6 C658,640 662,644 665.7,646.9 C670,647.5 675,647.7 680,647.7 C680,648 695,648.5 713.3,648 C725,644 738,638 748,630.7 C752,628.5 756,627.7 759.6,627.8 C765,628 770,630 774,632.8"/>
<path d="M748,613.3 C746,614.5 740,615.5 735,616.2" stroke-width="1.2"/>




<path d="M648.3,676.3 C660,679 670,682 680,684.1 C684,684.8 687,685.3 690.2,685.6 C705,686.5 720,686 735,684.1 C742,682 750,679 756.7,676.9 C764,673 771,670 778.3,668.2"/>
<path d="M756.7,676.9 C760,676 764,676 766.8,676.2 C770,676.5 774,677 776.9,678.3" stroke-width="1.3"/>

<path d="M688.8,688.4 C690,690 691.5,692 693.1,694.2"/>
<path d="M620,645.1 C622,643.5 624,642.3 625.8,641.7"/>
<path d="M620,658.1 C622.5,656 625,654 627.5,652.1"/>
<path d="M619.7,665 C621.5,667.5 623.5,669.3 625.8,669.4 C628,669.3 629.5,668 630.1,666.8 C632,664.5 633.5,662 634.5,659.9"/>
<path d="M626.7,669.4 C627.5,671 628.5,672.5 629.3,673.7 C630.5,676 631.5,677 632.7,677.2 C635,677 636.5,675 638,673.7 C639.5,672 641,671.2 642.3,671.1 C644.5,671.5 646.5,673 647.5,675.5 C648.5,678 648.8,680.5 648.3,682.4 C647.5,684.5 646,685.8 644,686.7 C641.5,689 639,691 637,692.8"/>
<path d="M652.7,678.1 C658,683 664,689 670,694.5"/>
<!-- ear -->
<path d="M808.3,622.2 C808,625 808.5,627 809.4,628.9 C811,632 813.5,634.5 816.7,636.1 C819,637.5 822,638.3 825,638.3 C829,638.3 833,636.8 836.1,634.4 C839.5,631.5 841.8,628.5 842.2,625 C842.5,621.5 841.5,618.5 840,616.1 C838.5,613.5 836.5,611.5 833.9,610" stroke-width="1.5"/>
<path d="M818.3,616.7 C820.5,615.8 822.5,615.3 825,615.3 C827,615.3 828.5,615.8 829.4,616.7 C831,618 832.3,619.5 833.3,621.1" stroke-width="1.5"/>
<path d="M818.3,616.7 C820.5,617.3 822.5,618 823.9,618.9 C825,619.8 825.8,621 825.6,622.2 C825.4,623.8 824.5,625 823.3,625.6 C821.5,626.2 819.8,626 818.3,625.6" stroke-width="1.5"/>
<!-- clothes -->
<path d="M807.2,643.7 C815,645 822,645.5 828.9,645.1 C840,644 850,641 862,636.4"/>
<path d="M807.2,643.7 C808,649 809.5,654 810.1,659.6 C811,666 811.5,672 811.6,678.3 C810,684 808,689 807.2,694"/>
<path d="M811.6,678.3 C814,674 817,669 818.8,666.8 C819.5,665 820,664 820.2,663.9 C826,663.5 831,664 836.1,665.3 C845,668 853,672 859.2,676.9"/>
</g>
</g>
<rect x="41" y="141.3" width="241.2" height="215.09999999999997" transform="translate(0.4 0.4)" rx="24" fill="none" stroke="#2e2624" stroke-width="1.8"/>
<rect x="330" y="141.3" width="241.2" height="215.09999999999997" transform="translate(0.4 0.4)" rx="24" fill="none" stroke="#2e2624" stroke-width="1.8"/>
<rect x="620" y="141.3" width="241.2" height="215.09999999999997" transform="translate(0.4 0.4)" rx="24" fill="none" stroke="#2e2624" stroke-width="1.8"/>
<rect x="41" y="485.3" width="241.2" height="214.39999999999998" transform="translate(0.4 0.4)" rx="24" fill="none" stroke="#2e2624" stroke-width="1.8"/>
<rect x="330" y="479.3" width="241.2" height="214.39999999999998" transform="translate(0.4 0.4)" rx="24" fill="none" stroke="#2e2624" stroke-width="1.8"/>
<rect x="620" y="479.3" width="241.2" height="214.39999999999998" transform="translate(0.4 0.4)" rx="24" fill="none" stroke="#2e2624" stroke-width="1.8"/>
<circle cx="63" cy="164.2" r="12.8" fill="#c9c9c9"/>
<path d="M59.6,158.89999999999998 L63.3,156.79999999999998 L63.3,172.1 M59.2,172.1 L67.4,172.1" fill="none" stroke="#231c1b" stroke-width="2.1" stroke-linejoin="miter"/>
<circle cx="352" cy="164.3" r="12.8" fill="#c9c9c9"/>
<text x="0" y="0" transform="translate(352 172.4) scale(0.8 1)" text-anchor="middle" font-family="Liberation Sans" font-size="22.6" fill="#231c1b" stroke="#231c1b" stroke-width="0.75">2</text>
<circle cx="641.7" cy="164.3" r="12.8" fill="#c9c9c9"/>
<text x="0" y="0" transform="translate(641.7 172.4) scale(0.8 1)" text-anchor="middle" font-family="Liberation Sans" font-size="22.6" fill="#231c1b" stroke="#231c1b" stroke-width="0.75">3</text>
<circle cx="63.3" cy="508" r="12.8" fill="#c9c9c9"/>
<text x="0" y="0" transform="translate(63.3 516.1) scale(0.8 1)" text-anchor="middle" font-family="Liberation Sans" font-size="22.6" fill="#231c1b" stroke="#231c1b" stroke-width="0.75">4</text>
<circle cx="352" cy="501.9" r="12.8" fill="#c9c9c9"/>
<text x="0" y="0" transform="translate(352 510.0) scale(0.8 1)" text-anchor="middle" font-family="Liberation Sans" font-size="22.6" fill="#231c1b" stroke="#231c1b" stroke-width="0.75">5</text>
<circle cx="641.7" cy="501.9" r="12.8" fill="#c9c9c9"/>
<text x="0" y="0" transform="translate(641.7 510.0) scale(0.8 1)" text-anchor="middle" font-family="Liberation Sans" font-size="22.6" fill="#231c1b" stroke="#231c1b" stroke-width="0.75">6</text>
</svg>
<div class="t" style="left:40.9px;top:363.9px;font-size:19px;word-spacing:-1.6px;transform:scaleX(0.8831);">Before use, sterilise the shield in</div>
<div class="t" style="left:40.9px;top:384.5px;font-size:19px;word-spacing:-1.6px;transform:scaleX(0.9532);">boiling water and ensure your</div>
<div class="t" style="left:40.9px;top:405.1px;font-size:19px;word-spacing:-1.6px;transform:scaleX(0.8446);">hands &amp; breasts are clean and dry.</div>
<div class="t" style="left:330.2px;top:363.5px;font-size:19px;word-spacing:-1.6px;transform:scaleX(0.9296);">Before attaching to your breast,</div>
<div class="t" style="left:330.2px;top:384.2px;font-size:19px;word-spacing:-1.6px;transform:scaleX(0.9054);">place a few drops of drinking-quality</div>
<div class="t" style="left:330.2px;top:404.9px;font-size:19px;word-spacing:-1.6px;transform:scaleX(0.9343);">water or breast milk on the</div>
<div class="t" style="left:330.2px;top:425.7px;font-size:19px;word-spacing:-1.6px;transform:scaleX(0.9391);">underside of the brim to help the</div>
<div class="t" style="left:330.2px;top:446.3px;font-size:19px;word-spacing:-1.6px;transform:scaleX(0.9226);">shield stick to your skin.</div>
<div class="t" style="left:619.4px;top:363.7px;font-size:19px;word-spacing:-1.6px;transform:scaleX(0.9243);">Holding the shield at the base</div>
<div class="t" style="left:619.4px;top:384.4px;font-size:19px;word-spacing:-1.6px;transform:scaleX(0.9073);">of the nipple area, press nipple</div>
<div class="t" style="left:619.4px;top:405.1px;font-size:19px;word-spacing:-1.6px;transform:scaleX(0.9311);">until shield is halfway inverted.</div>
<div class="t" style="left:41.1px;top:708.7px;font-size:19px;word-spacing:-1.6px;transform:scaleX(0.9224);">Rotate the shield so the cut-out</div>
<div class="t" style="left:41.1px;top:730.9px;font-size:19px;word-spacing:-1.6px;transform:scaleX(0.9407);">area is placed where the baby's</div>
<div class="t" style="left:41.1px;top:751.5px;font-size:19px;word-spacing:-1.6px;transform:scaleX(0.8786);">nose will be when feeding.</div>
<div class="t" style="left:330.2px;top:702.0px;font-size:19px;word-spacing:-1.6px;transform:scaleX(0.9229);">Centre the shield over your nipple,</div>
<div class="t" style="left:330.2px;top:722.7px;font-size:19px;word-spacing:-1.6px;transform:scaleX(0.9188);">enclosing as much of your nipple</div>
<div class="t" style="left:330.2px;top:743.7px;font-size:19px;word-spacing:-1.6px;transform:scaleX(0.8972);">as possible. Then, press the shield</div>
<div class="t" style="left:330.2px;top:764.4px;font-size:19px;word-spacing:-1.6px;transform:scaleX(0.9540);">down onto your skin to flip it right</div>
<div class="t" style="left:330.2px;top:784.7px;font-size:19px;word-spacing:-1.6px;transform:scaleX(0.9133);">side out. The base should sit flush</div>
<div class="t" style="left:330.2px;top:805.4px;font-size:19px;word-spacing:-1.6px;transform:scaleX(0.9160);">against your skin.</div>
<div class="t" style="left:619.4px;top:702.1px;font-size:19px;word-spacing:-1.6px;transform:scaleX(0.9182);">With the shield applied, you can</div>
<div class="t" style="left:619.4px;top:722.2px;font-size:19px;word-spacing:-1.6px;transform:scaleX(0.9059);">now breastfeed as normal.</div>
<div class="t" style="left:52.8px;top:101.5px;font-size:20.6px;word-spacing:0px;transform:scaleX(0.9718);-webkit-text-stroke:0.65px #231c1b;color:#231c1b;">Instructions:</div>

</body></html>
